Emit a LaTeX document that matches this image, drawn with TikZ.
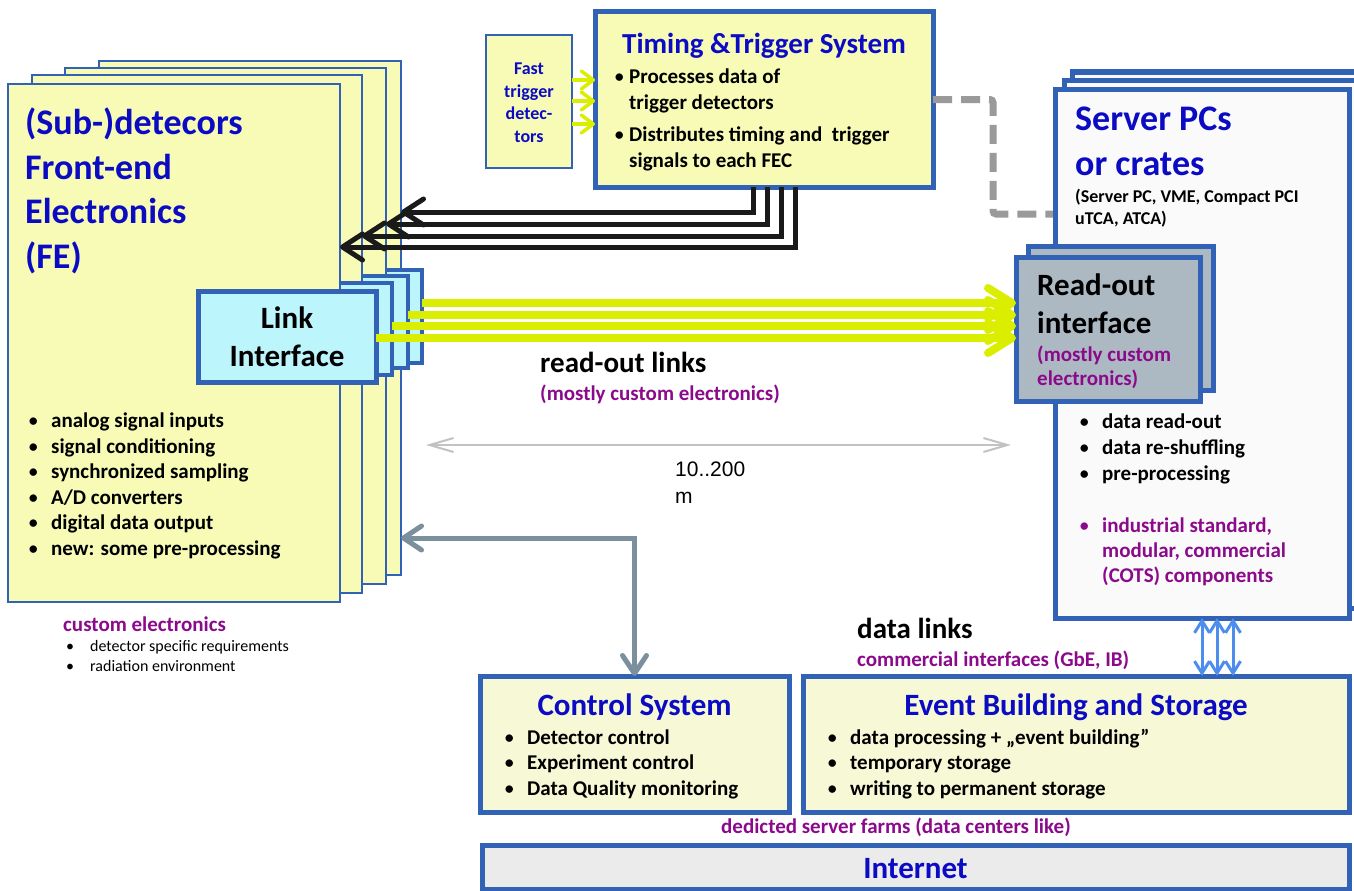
\documentclass[tikz,border=0pt]{standalone}
\usepackage{fontspec}
\setmainfont{Carlito}
\newfontfamily\arialfont{Liberation Sans}
\usetikzlibrary{arrows.meta}

\definecolor{feyellow}{HTML}{F7FBB6}
\definecolor{ctrlfill}{HTML}{F7F9D6}
\definecolor{boxblue}{HTML}{3162B5}
\definecolor{titleblue}{HTML}{0B0BC4}
\definecolor{purp}{HTML}{8B0A8B}
\definecolor{linkcyan}{HTML}{BDF5FD}
\definecolor{rogray}{HTML}{ADB9C2}
\definecolor{svfill}{HTML}{FAFAFA}
\definecolor{inetfill}{HTML}{EBEBEB}
\definecolor{ylw}{HTML}{DCEE00}
\definecolor{slate}{HTML}{7B909C}
\definecolor{blu}{HTML}{4C8DEE}
\definecolor{dgray}{HTML}{9A9A9A}
\definecolor{lgray}{HTML}{C2C2C2}
\definecolor{trigblack}{HTML}{1A1A1A}

\newcommand{\dotitem}[1][23pt]{\makebox[#1][l]{\mdseries\textbullet}}

\tikzset{
  box/.style={anchor=north west,inner sep=0pt,outer sep=0pt,draw=boxblue},
  sheet/.style={box,line width=1.5pt,fill=feyellow},
  linkbox/.style={box,line width=4pt,fill=linkcyan},
  svbox/.style={box,line width=5pt,fill=svfill},
  robox/.style={box,line width=5pt,fill=rogray},
  txt/.style={anchor=base west,inner sep=0pt,align=left},
  ctxt/.style={anchor=base,inner sep=0pt,align=center},
  bigtitle/.style={font=\fontsize{36}{44.5}\selectfont\bfseries,text=titleblue},
  hdr/.style={font=\fontsize{31}{38}\selectfont\bfseries},
  blist/.style={font=\fontsize{21}{25.5}\selectfont\bfseries},
  note/.style={font=\fontsize{21}{23.5}\selectfont\bfseries,text=purp},
  trig/.style={draw=trigblack,line width=5pt,-{Straight Barb[length=20pt,width=26pt,round]}},
  rolink/.style={draw=ylw,line width=8pt,-{Straight Barb[length=24pt,width=30pt,round]}},
  fastlink/.style={draw=ylw,line width=3.5pt,-{Straight Barb[length=12pt,width=18pt,round]}},
  ctrllink/.style={draw=slate,line width=5pt,{Straight Barb[length=18pt,width=24pt,round]}-{Straight Barb[length=18pt,width=24pt,round]}},
  datalink/.style={draw=blu,line width=3pt,{Straight Barb[length=12pt,width=15pt]}-{Straight Barb[length=12pt,width=15pt]}},
  distarrow/.style={draw=lgray,line width=2pt,{Straight Barb[length=24pt,width=14pt]}-{Straight Barb[length=24pt,width=14pt]}},
  dashlink/.style={draw=dgray,line width=7pt,dash pattern=on 19pt off 9pt,rounded corners=3pt}
}

\begin{document}
\begin{tikzpicture}[x=1pt,y=-1pt]
  \useasboundingbox (0,0) rectangle (1354,891);

  % front-end stack with its link interfaces
  \node[sheet,minimum width=302,minimum height=514] (fe4) at (99,61) {};
  \node[linkbox,minimum width=179,minimum height=93] (lk4) at (243,270) {};
  \node[sheet,minimum width=321,minimum height=516] (fe3) at (65,68) {};
  \node[linkbox,minimum width=179,minimum height=92] (lk3) at (229,276) {};
  \node[sheet,minimum width=330,minimum height=518] (fe2) at (32,75) {};
  \node[linkbox,minimum width=179,minimum height=92] (lk2) at (213,283) {};
  \node[sheet,minimum width=332,minimum height=518] (fe1) at (8,84) {};
  \node[linkbox,line width=5pt,minimum width=178,minimum height=91] (lk1) at (198,291) {};

  % multi-line texts sit on the baseline of their last line
  \node[txt,bigtitle] (fetitle) at (25,268) {(Sub-)detecors\\Front-end\\Electronics\\(FE)};
  \node[ctxt,hdr] (lktext) at (287,366) {Link\\Interface};
  \node[txt,blist] (febul) at (28,555) {\dotitem analog signal inputs\\\dotitem signal conditioning\\\dotitem synchronized sampling\\\dotitem A/D converters\\\dotitem digital data output\\\dotitem new: some pre-processing};
  \node[txt,note] (fecustom) at (63,631) {custom electronics};
  \node[txt,font=\fontsize{16}{19.5}\selectfont] (fereq) at (66,671) {\dotitem[24pt]detector specific requirements\\\dotitem[24pt]radiation environment};

  % trigger
  \node[box,line width=1.5pt,fill=feyellow,minimum width=86,minimum height=133] (ftd) at (486,35) {};
  \node[ctxt,font=\fontsize{18}{22.5}\selectfont\bfseries,text=titleblue] (ftdtext) at (529,142) {Fast\\trigger\\detec-\\tors};
  \node[box,line width=5pt,fill=feyellow,minimum width=338,minimum height=175] (tts) at (595,12) {};
  \node[ctxt,font=\fontsize{29}{35}\selectfont\bfseries,text=titleblue] (ttstitle) at (764,53) {Timing \&Trigger System};
  \node[txt,blist] (ttsbul) at (614,167) {\dotitem[15pt]Processes data of\\\hspace*{15pt}trigger detectors\\[7pt]\dotitem[15pt]Distributes timing and\ \ trigger\\\hspace*{15pt}signals to each FEC};

  \draw[fastlink] (ftd.east |- 0,80) -- (tts.west |- 0,80);
  \draw[fastlink] (ftd.east |- 0,101) -- (tts.west |- 0,101);
  \draw[fastlink] (ftd.east |- 0,124) -- (tts.west |- 0,124);

  % servers
  \draw[dashlink] (tts.east) -| (993,214) -- (1060,214);
  \node[svbox,minimum width=296,minimum height=528] (sv3) at (1072,72) {};
  \node[svbox,minimum width=296,minimum height=528] (sv2) at (1064,80) {};
  \node[svbox,minimum width=294,minimum height=529] (sv1) at (1055,89) {};
  \node[txt,bigtitle] (svtitle) at (1075,175) {Server PCs\\or crates};
  \node[txt,font=\fontsize{18}{22}\selectfont\bfseries] (svtypes) at (1075,224) {(Server PC, VME, Compact PCI\\uTCA, ATCA)};

  \node[robox,minimum width=185,minimum height=144] (ro2) at (1028,246) {};
  \node[robox,minimum width=184,minimum height=144] (ro1) at (1016,257) {};
  \node[txt,hdr] (rotitle) at (1037,333) {Read-out\\interface};
  \node[txt,note] (ronote) at (1037,385) {(mostly custom\\electronics)};

  \node[txt,font=\fontsize{21}{26}\selectfont\bfseries] (svbul) at (1079,480) {\dotitem data read-out\\\dotitem data re-shuffling\\\dotitem pre-processing};
  \node[txt,note,font=\fontsize{21}{25}\selectfont\bfseries] (svcots) at (1079,582) {\dotitem industrial standard,\\\hspace*{23pt}modular, commercial\\\hspace*{23pt}(COTS) components};

  % links
  \draw[trig] (tts.south -| 753,0) |- (fe4.east |- 0,212);
  \draw[trig] (tts.south -| 767,0) |- (fe3.east |- 0,224);
  \draw[trig] (tts.south -| 781,0) |- (fe2.east |- 0,236);
  \draw[trig] (tts.south -| 795,0) |- (fe1.east |- 0,247);

  \draw[rolink] (lk4.east |- 0,303) -- (ro1.west |- 0,303);
  \draw[rolink] (lk3.east |- 0,315) -- (ro1.west |- 0,315);
  \draw[rolink] (lk2.east |- 0,326) -- (ro1.west |- 0,326);
  \draw[rolink] (lk1.east |- 0,338) -- (ro1.west |- 0,338);
  \node[txt,font=\fontsize{29}{35}\selectfont\bfseries] (rolinks) at (540,372) {read-out links};
  \node[txt,note] (rolinksnote) at (540,400) {(mostly custom electronics)};

  \coordinate (dl) at (426,445);
  \coordinate (dr) at (1011,445);
  \draw[distarrow] (dl) -- (dr);
  \node[txt,font=\arialfont\fontsize{21}{27}\selectfont] (dist) at (675,503) {10..200\\m};

  % control, event building, internet
  \node[box,line width=5pt,fill=ctrlfill,minimum width=309,minimum height=136] (ctrl) at (480,676) {};
  \node[box,line width=5pt,fill=ctrlfill,minimum width=546,minimum height=136] (evb) at (803,676) {};
  \node[box,line width=5pt,fill=inetfill,minimum width=867,minimum height=44] (inet) at (482,845) {};

  \draw[ctrllink] (fe4.east |- 0,538) -| (ctrl.north);
  \draw[datalink] (sv1.south -| 1202,0) -- (evb.north -| 1202,0);
  \draw[datalink] (sv1.south -| 1217,0) -- (evb.north -| 1217,0);
  \draw[datalink] (sv1.south -| 1233,0) -- (evb.north -| 1233,0);
  \node[txt,font=\fontsize{29}{35}\selectfont\bfseries] (dlinks) at (857,638) {data links};
  \node[txt,note] (dlinksnote) at (857,666) {commercial interfaces (GbE, IB)};

  \node[ctxt,hdr,text=titleblue] (ctrltitle) at (ctrl.north |- 0,715) {Control System};
  \node[txt,blist] (ctrlbul) at (504,795) {\dotitem Detector control\\\dotitem Experiment control\\\dotitem Data Quality monitoring};
  \node[ctxt,hdr,text=titleblue] (evbtitle) at (evb.north |- 0,715) {Event Building and Storage};
  \node[txt,blist] (evbbul) at (827,795) {\dotitem data processing + „event building”\\\dotitem temporary storage\\\dotitem writing to permanent storage};
  \node[ctxt,note] (farms) at (896,833) {dedicted server farms (data centers like)};
  \node[ctxt,hdr,text=titleblue] (inettext) at (inet.north |- 0,878) {Internet};
\end{tikzpicture}
\end{document}
